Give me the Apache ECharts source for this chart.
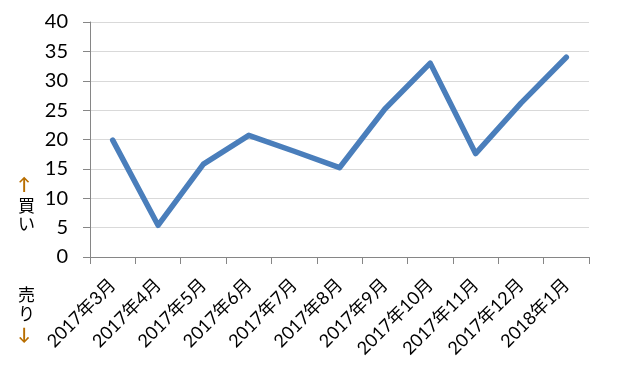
<!DOCTYPE html>
<html><head><meta charset="utf-8">
<script src="https://cdn.jsdelivr.net/npm/echarts@6/dist/echarts.min.js"></script>
<style>html,body{margin:0;padding:0;background:#fff}#c{width:624px;height:366px}</style>
</head><body><div id="c"></div>
<script>
const categories = ['2017年3月','2017年4月','2017年5月','2017年6月','2017年7月','2017年8月','2017年9月','2017年10月','2017年11月','2017年12月','2018年1月'];
const values = [19.9, 5.4, 15.8, 20.7, 18.0, 15.2, 25.2, 33.0, 17.6, 26.2, 34.0];
const yMin = 0, yMax = 40, yStep = 5;
const FONT = "Lato, 'Noto Sans CJK JP', sans-serif";
const chart = echarts.init(document.getElementById('c'), null, {renderer:'canvas'});
chart.setOption({
  animation:false,
  backgroundColor:'#ffffff',
  grid:{left:90, right:35, top:22, bottom:109, containLabel:false},
  xAxis:{type:'category', data:categories, boundaryGap:true,
    axisLine:{show:true, lineStyle:{color:'#868686', width:1}},
    axisTick:{show:true, length:7, alignWithLabel:false, lineStyle:{color:'#868686'}},
    axisLabel:{rotate:45, interval:0, margin:25, color:'#000', fontSize:18, fontFamily:FONT}},
  yAxis:{type:'value', min:yMin, max:yMax, interval:yStep,
    axisLine:{show:true, lineStyle:{color:'#868686', width:1}},
    axisTick:{show:true, length:7, inside:false, lineStyle:{color:'#868686'}},
    splitLine:{show:true, lineStyle:{color:'#d9d9d9', width:1}},
    axisLabel:{margin:22, color:'#000', fontSize:20, fontFamily:FONT}},
  series:[{type:'line', data:values, showSymbol:false, symbol:'none',
    lineStyle:{color:'#4a7ebb', width:5.5, cap:'round', join:'round'}}],
  graphic:[
    {type:'text', left:18, top:176, style:{text:'↑', fill:'#b86e00', font:"bold 17px "+FONT}},
    {type:'text', left:18, top:198, style:{text:'買', fill:'#000', font:"17px "+FONT}},
    {type:'text', left:18, top:216, style:{text:'い', fill:'#000', font:"17px "+FONT}},
    {type:'text', left:18, top:287, style:{text:'売', fill:'#000', font:"17px "+FONT}},
    {type:'text', left:18, top:306, style:{text:'り', fill:'#000', font:"17px "+FONT}},
    {type:'text', left:18, top:326, style:{text:'↓', fill:'#b86e00', font:"bold 17px "+FONT}}
  ]
});
</script></body></html>
